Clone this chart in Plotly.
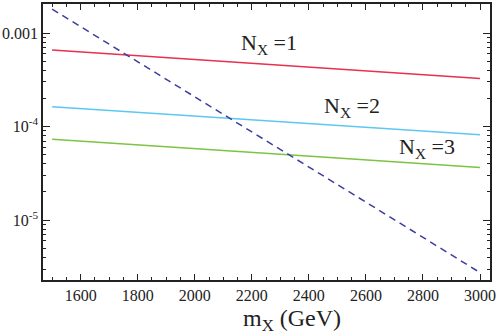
import numpy as np
import plotly.graph_objects as go

# masses (GeV) and read-off curves
m_x = [1500, 2000, 2500, 3000]
n1 = [6.6e-4, 5.2e-4, 4.1e-4, 3.27e-4]
n2 = [1.63e-4, 1.29e-4, 1.03e-4, 8.2e-5]
n3 = [7.3e-5, 5.75e-5, 4.6e-5, 3.66e-5]
bound = [1.8e-3, 2.1e-4, 2.4e-5, 2.75e-6]

y_major = [1e-3, 1e-4, 1e-5]
y_major_text = ["0.001", "10<sup>-4</sup>", "10<sup>-5</sup>"]
y_minor = [k * 10.0 ** e for e in (-6, -5, -4, -3) for k in range(2, 10)]

serif = "Liberation Serif, Times New Roman, serif"

fig = go.Figure()
fig.add_trace(go.Scatter(x=m_x, y=n1, mode="lines", line=dict(color="#e8304f", width=1.5)))
fig.add_trace(go.Scatter(x=m_x, y=n2, mode="lines", line=dict(color="#5bc8f2", width=1.5)))
fig.add_trace(go.Scatter(x=m_x, y=n3, mode="lines", line=dict(color="#7cc444", width=1.5)))
fig.add_trace(go.Scatter(x=m_x, y=bound, mode="lines",
                         line=dict(color="#3d3d9e", width=1.5, dash="7px,5px")))

labels = [("N<sub>X</sub> =1", 2260, 7.7e-4), ("N<sub>X</sub> =2", 2550, 1.6e-4),
          ("N<sub>X</sub> =3", 2815, 5.9e-5)]
for txt, xx, yy in labels:
    fig.add_annotation(x=xx, y=np.log10(yy), text=txt, showarrow=False,
                       font=dict(family=serif, size=22, color="#222"))

fig.add_annotation(xref="paper", yref="paper", x=0.556, y=-0.145, yanchor="middle",
                   text="m<sub>X</sub> (GeV)", showarrow=False,
                   font=dict(family=serif, size=24, color="#222"))

yr = [-5.64, -2.69]
fig.update_layout(
    width=498, height=336,
    margin=dict(l=40, r=8, t=2, b=56),
    paper_bgcolor="white", plot_bgcolor="white",
    showlegend=False,
    font=dict(family=serif, size=16, color="#222"),
    xaxis=dict(range=[1468, 3035], tickvals=list(range(1600, 3001, 200)),
               ticks="inside", ticklen=6, tickcolor="#222", showgrid=False, zeroline=False,
               showline=True, linecolor="#222", linewidth=1.5, mirror="ticks",
               minor=dict(dtick=50, tick0=1500, ticks="inside", ticklen=3, tickcolor="#222")),
    yaxis=dict(type="log", range=yr, tickvals=y_major, ticktext=y_major_text,
               ticks="inside", ticklen=7, tickcolor="#222", showgrid=False, zeroline=False,
               showline=True, linecolor="#222", linewidth=1.5, mirror="ticks"),
    yaxis2=dict(type="log", range=yr, overlaying="y", anchor="x", side="left",
                tickvals=y_minor, showticklabels=False, ticks="inside", ticklen=3,
                tickcolor="#222", showgrid=False, zeroline=False, mirror="ticks",
                showline=False),
)
# invisible trace to bind the minor-tick axis
fig.add_trace(go.Scatter(x=[m_x[0]], y=[n1[0]], yaxis="y2", mode="markers",
                         marker=dict(opacity=0), hoverinfo="skip"))

fig.write_html("out.html", config={"displayModeBar": False},
               post_script="document.body.style.margin='0';")
